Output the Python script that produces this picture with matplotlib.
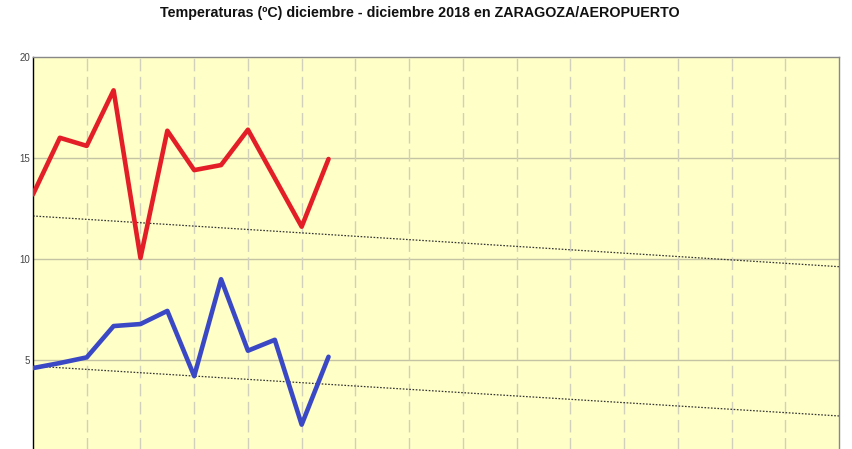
import matplotlib
matplotlib.use("Agg")
import matplotlib.pyplot as plt
import numpy as np

# Data (December 2018, Zaragoza/Aeropuerto)
days = list(range(1, 13))
t_max = [13.2, 16.0, 15.6, 18.35, 10.05, 16.35, 14.4, 14.65, 16.4, 14.0, 11.6, 14.95]
t_min = [4.6, 4.85, 5.13, 6.68, 6.78, 7.43, 4.2, 9.0, 5.46, 6.0, 1.8, 5.16]
trend_days = [1, 31]
trend_max = [12.13, 9.62]
trend_min = [4.7, 2.23]
y_ticks = [5, 10, 15, 20]
title = "Temperaturas (ºC) diciembre - diciembre 2018 en ZARAGOZA/AEROPUERTO"

plt.rcParams['font.family'] = ['Liberation Sans', 'DejaVu Sans']

W, H = 852, 449
fig = plt.figure(figsize=(W / 100, H / 100), dpi=100)
left, right, top, bottom = 33, 839, 57, 461
ax = fig.add_axes([left / W, 1 - bottom / H, (right - left) / W, (bottom - top) / H])
ax.set_facecolor('#ffffc8')

ax.set_xlim(1, 31)
ax.set_ylim(0, 20)

# grid
for y in y_ticks[:-1]:
    ax.axhline(y, color='#c4c4a4', lw=1.0, zorder=1)
for x in range(3, 31, 2):
    ax.axvline(x, color='#d0d0bc', lw=1.0, ls=(0, (9, 4)), zorder=1)

ax.plot(trend_days, trend_max, color='#333333', lw=0.9, ls=(0, (1.3, 1.3)), zorder=2)
ax.plot(trend_days, trend_min, color='#333333', lw=0.9, ls=(0, (1.3, 1.3)), zorder=2)

ax.plot(days, t_max, color='#e41e26', lw=3.3, solid_joinstyle='round',
        solid_capstyle='round', zorder=3)
ax.plot(days, t_min, color='#3a48c6', lw=3.3, solid_joinstyle='round',
        solid_capstyle='round', zorder=3)

ax.set_yticks(y_ticks)
ax.set_yticklabels([str(v) for v in y_ticks])
ax.tick_params(axis='y', length=0, pad=2, labelsize=7, labelcolor='#444444')
ax.set_xticks([])

for s in ['top', 'right']:
    ax.spines[s].set_color('#888888')
    ax.spines[s].set_linewidth(1.0)
ax.spines['left'].set_color('#000000')
ax.spines['left'].set_linewidth(1.0)
ax.spines['bottom'].set_visible(False)

fig.text(420 / W, 1 - 13 / H, title, ha='center', va='center',
         fontsize=10.3, fontweight='bold', color='#111111')

fig.savefig('out.png', dpi=100)
